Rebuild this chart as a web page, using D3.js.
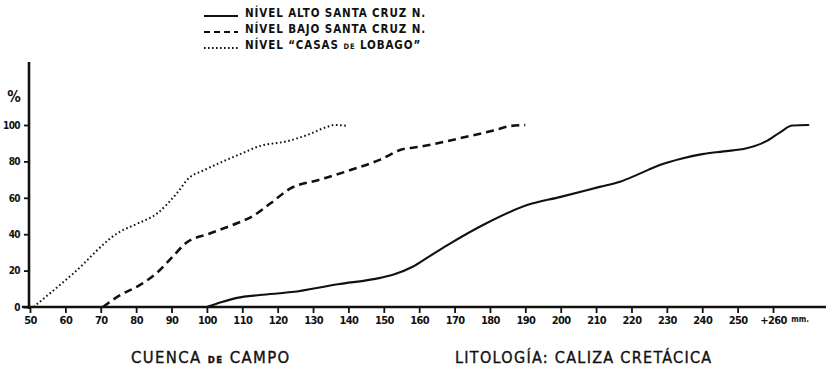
<!DOCTYPE html>
<html>
<head>
<meta charset="utf-8">
<script src="https://cdn.jsdelivr.net/npm/d3@7"></script>
<style>
  html, body { margin: 0; padding: 0; background: #fff; }
  svg { display: block; }
  text { font-family: "DejaVu Sans Condensed", "DejaVu Sans", sans-serif; fill: #111; }
</style>
</head>
<body>
<svg id="chart" width="830" height="374"></svg>
<script>
// Cumulative grain-size curves (% passing vs. mm)
const xTicks = [50, 60, 70, 80, 90, 100, 110, 120, 130, 140, 150, 160, 170, 180, 190, 200, 210, 220, 230, 240, 250, 260];
const xTickLabels = ["50", "60", "70", "80", "90", "100", "110", "120", "130", "140", "150", "160", "170", "180", "190", "200", "210", "220", "230", "240", "250", "+260"];
const yTicks = [0, 20, 40, 60, 80, 100];

const altoMm  = [100, 104, 108.5, 115, 124, 137, 149, 153, 158, 163, 168, 179, 190.5, 200, 211, 217, 222, 228, 234, 240, 246, 252.5, 258, 262, 265.5, 270];
const altoPct = [0, 2.6, 5, 6.6, 8.2, 12.5, 16, 18, 22, 28, 34, 46, 56, 60.5, 66, 69, 73, 78, 81.5, 84, 85.5, 87.2, 91, 96, 99.7, 100];

const bajoMm  = [70.6, 75, 81, 86, 90, 94, 101, 108.5, 113, 118, 123.5, 132, 141, 149, 155, 160, 171, 181, 186, 190];
const bajoPct = [0, 6, 12, 19, 27, 35, 40.5, 46, 50, 57, 65, 70, 75.5, 81, 86.5, 88, 92.5, 97, 99.5, 100];

const lobagoMm  = [51, 62, 75.5, 80, 86, 91.5, 95, 99, 104, 110, 115, 122.5, 129, 134, 136, 140];
const lobagoPct = [0, 18, 41.5, 45.5, 51.5, 62.5, 71, 75, 79.5, 84.5, 88.5, 91, 95, 99, 100, 99.5];

// legend labels as [text, small?] pieces
const seriesNames = [
  [["NÍVEL ALTO SANTA CRUZ N.", false]],
  [["NÍVEL BAJO SANTA CRUZ N.", false]],
  [["NÍVEL \u201CCASAS ", false], ["DE", true], [" LOBAGO\u201D", false]]
];

const svg = d3.select("#chart");
const ink = "#111";

const x = d3.scaleLinear().domain([50, 260]).range([30, 773]);
const y = d3.scaleLinear().domain([0, 100]).range([307, 125]);

// axes
svg.append("line").attr("x1", 29).attr("x2", 29).attr("y1", 62).attr("y2", 309)
  .attr("stroke", ink).attr("stroke-width", 2.6);
svg.append("line").attr("x1", 22).attr("x2", 826).attr("y1", y(0)).attr("y2", y(0))
  .attr("stroke", ink).attr("stroke-width", 2.6);

const xAxis = d3.axisBottom(x).tickValues(xTicks)
  .tickFormat((d, i) => xTickLabels[i]).tickSize(6).tickPadding(3);
const gx = svg.append("g").attr("transform", `translate(0,${y(0)})`).call(xAxis);
gx.select(".domain").remove();
gx.selectAll(".tick line").attr("stroke", ink).attr("stroke-width", 1.8);
gx.selectAll(".tick text").attr("font-size", 11).attr("font-weight", "bold")
  .attr("letter-spacing", -0.6).style("fill", ink)
  .attr("font-family", "\"DejaVu Sans Condensed\", sans-serif");

const yAxis = d3.axisLeft(y).tickValues(yTicks).tickSize(5).tickPadding(4);
const gy = svg.append("g").attr("transform", "translate(29,0)").call(yAxis);
gy.select(".domain").remove();
gy.selectAll(".tick line").attr("stroke", ink).attr("stroke-width", 1.8);
gy.selectAll(".tick text").attr("font-size", 10).attr("font-weight", "bold")
  .attr("letter-spacing", -0.6).style("fill", ink)
  .attr("font-family", "\"DejaVu Sans Condensed\", sans-serif");

svg.append("text").attr("x", 14).attr("y", 102).attr("text-anchor", "middle")
  .attr("font-size", 15).attr("font-weight", "bold").text("%");
svg.append("text").attr("x", 800).attr("y", 322).attr("text-anchor", "middle")
  .attr("font-size", 8).attr("font-weight", "bold").text("mm.");

// curves
const line = d3.line().x(d => x(d[0])).y(d => y(d[1])).curve(d3.curveMonotoneX);
const series = [
  { mm: altoMm, pct: altoPct, dash: null, width: 2.1, cap: "round" },
  { mm: bajoMm, pct: bajoPct, dash: "8,5", width: 2.6, cap: "butt" },
  { mm: lobagoMm, pct: lobagoPct, dash: "1.6,2.6", width: 2.0, cap: "butt" }
];
series.forEach(s => {
  svg.append("path").datum(s.mm.map((m, i) => [m, s.pct[i]]))
    .attr("d", line).attr("fill", "none").attr("stroke", ink)
    .attr("stroke-width", s.width).attr("stroke-linecap", s.cap)
    .attr("stroke-dasharray", s.dash);
});

// legend
const legendY = [16, 32, 48];
series.forEach((s, i) => {
  svg.append("line").attr("x1", 204).attr("x2", 238)
    .attr("y1", legendY[i]).attr("y2", legendY[i])
    .attr("stroke", ink).attr("stroke-width", i === 2 ? 1.8 : 2.2)
    .attr("stroke-dasharray", i === 0 ? null : (i === 1 ? "6,4" : "1.6,2.4"));
  const t = svg.append("text").attr("x", 245).attr("y", legendY[i] + 1)
    .attr("font-size", 11.5).attr("font-weight", "bold").attr("letter-spacing", 0.9);
  seriesNames[i].forEach(([str, small]) => {
    t.append("tspan").attr("font-size", small ? 7.5 : 11.5).text(str);
  });
});

// captions
const c1 = svg.append("text").attr("x", 131).attr("y", 363).attr("font-size", 16.5)
  .attr("letter-spacing", 1.4).attr("stroke", ink).attr("stroke-width", 0.35)
  .attr("font-family", "\"DejaVu Sans\", sans-serif");
c1.append("tspan").text("CUENCA ");
c1.append("tspan").attr("font-size", 9.5).attr("font-weight", "bold").text("DE");
c1.append("tspan").text(" CAMPO");
svg.append("text").attr("x", 455).attr("y", 363).attr("font-size", 16)
  .attr("letter-spacing", 1.3).attr("stroke", ink).attr("stroke-width", 0.35)
  .attr("font-family", "\"DejaVu Sans\", sans-serif")
  .text("LITOLOGÍA: CALIZA CRETÁCICA");
</script>
</body>
</html>
